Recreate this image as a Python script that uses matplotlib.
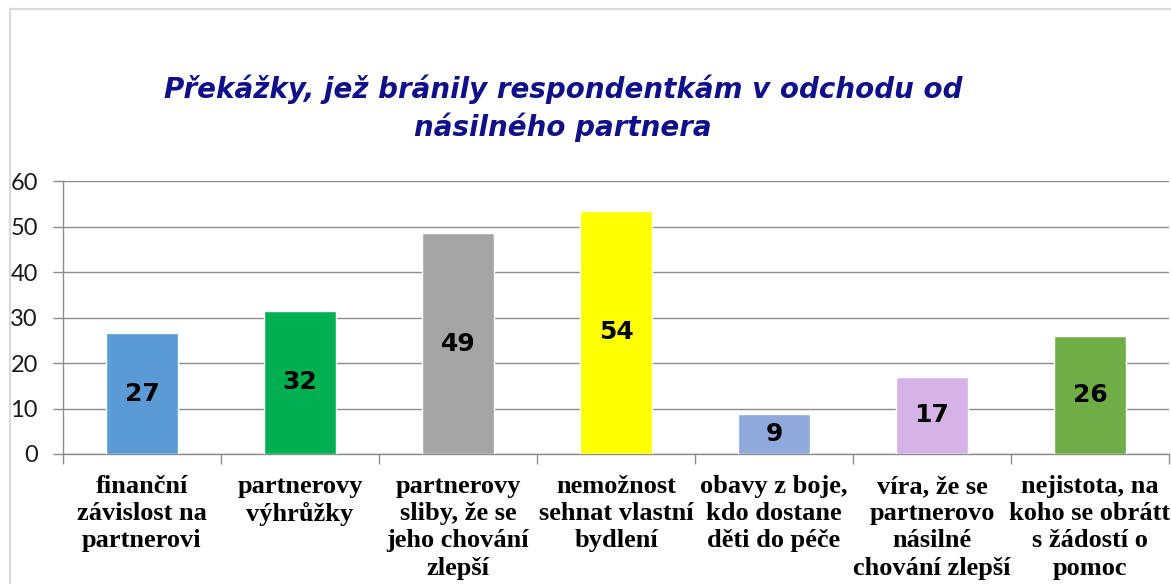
import numpy as np
import matplotlib
matplotlib.use("Agg")
import matplotlib.pyplot as plt
from matplotlib.lines import Line2D

# Data (bar heights; labels shown rounded)
categories = [
    "finanční\nzávislost na\npartnerovi",
    "partnerovy\nvýhrůžky",
    "partnerovy\nsliby, že se\njeho chování\nzlepší",
    "nemožnost\nsehnat vlastní\nbydlení",
    "obavy z boje,\nkdo dostane\nděti do péče",
    "víra, že se\npartnerovo\nnásilné\nchování zlepší",
    "nejistota, na\nkoho se obrátt\ns žádostí o\npomoc",
]
values = [26.5, 31.5, 48.5, 53.5, 8.8, 17.0, 26.0]
bar_colors = ["#5B9BD5", "#00B050", "#A5A5A5", "#FFFF00", "#8EA9DB", "#D5B3E6", "#70AD47"]
y_ticks = [0, 10, 20, 30, 40, 50, 60]
title = "Překážky, jež bránily respondentkám v odchodu od\nnásilného partnera"

fig = plt.figure(figsize=(11.71, 5.84), dpi=100)
ax = fig.add_axes([63 / 1171, 130 / 584, 1106 / 1171, 273 / 584])

x = np.arange(len(values))
bars = ax.bar(x, values, width=0.46, color=bar_colors, edgecolor="white", linewidth=1.0, zorder=3)

for xi, v in zip(x, values):
    ax.text(xi, v / 2, str(int(v + 0.5)), ha="center", va="center",
            fontsize=18, fontweight="bold", family="DejaVu Sans", color="black", zorder=4)

ax.set_xlim(-0.5, len(values) - 0.5)
ax.set_ylim(0, 60)
ax.set_yticks(y_ticks)
ax.set_yticklabels([str(t) for t in y_ticks], fontsize=17, family="Lato", color="#1a1a1a")
ax.yaxis.grid(True, color="#8c8c8c", linewidth=1.0, zorder=0)
ax.set_axisbelow(True)

ax.set_xticks(x)
ax.set_xticklabels(categories, fontsize=19, fontweight="bold", family="Liberation Serif",
                   linespacing=1.24, va="top")
ax.set_xticks(np.arange(-0.5, len(values)), minor=True)
ax.tick_params(axis="x", which="major", length=0, pad=15)
ax.tick_params(axis="x", which="minor", length=7, width=1, color="#8c8c8c")
ax.tick_params(axis="y", length=7, width=1, color="#8c8c8c", pad=11)

for s in ["top", "right"]:
    ax.spines[s].set_visible(False)
for s in ["left", "bottom"]:
    ax.spines[s].set_color("#8c8c8c")
    ax.spines[s].set_linewidth(1.0)

fig.text(563 / 1171, 1 - 108 / 584, title, ha="center", va="center", fontsize=20,
         fontweight="bold", style="italic", family="DejaVu Sans", color="#10108A",
         linespacing=1.35)

# chart frame (only top and left edges visible in the crop)
fig.add_artist(Line2D([10 / 1171, 10 / 1171], [0, 1 - 9 / 584], transform=fig.transFigure,
                      color="#d9d9d9", linewidth=1.5))
fig.add_artist(Line2D([10 / 1171, 1], [1 - 9 / 584, 1 - 9 / 584], transform=fig.transFigure,
                      color="#d9d9d9", linewidth=1.5))

fig.savefig("out.png", dpi=100)
